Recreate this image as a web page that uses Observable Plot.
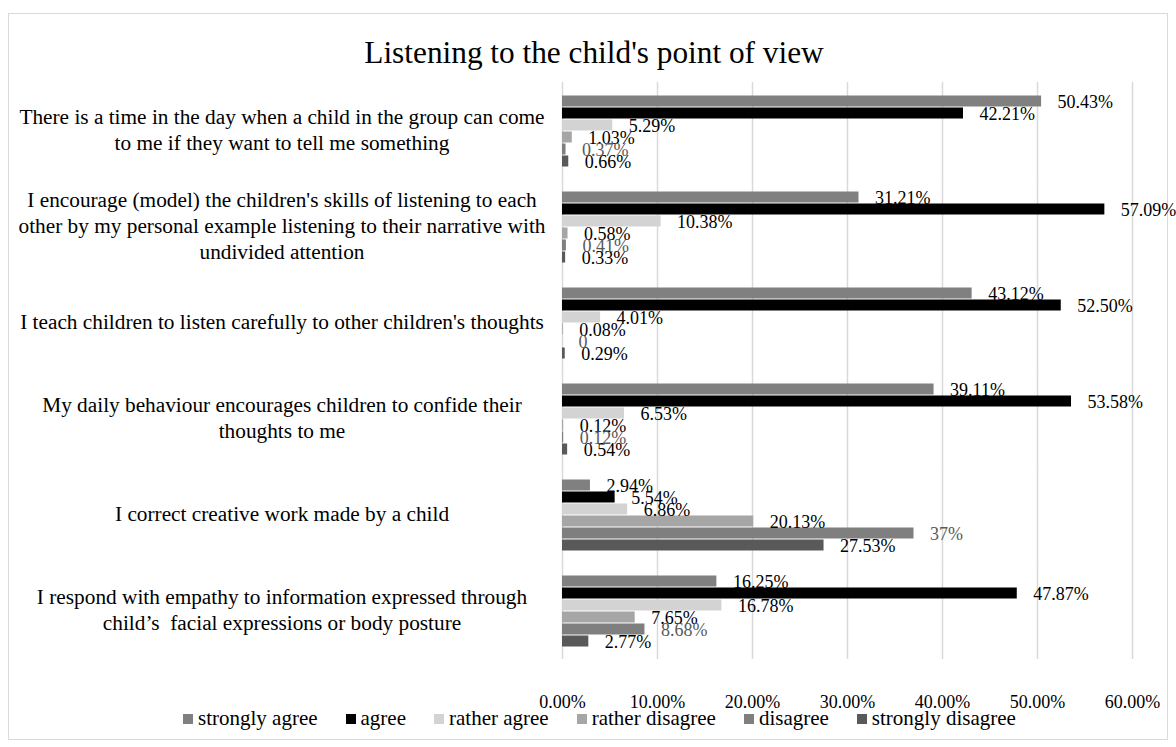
<!DOCTYPE html>
<html>
<head>
<meta charset="utf-8">
<script src="https://cdn.jsdelivr.net/npm/d3@7"></script>
<script src="https://cdn.jsdelivr.net/npm/@observablehq/plot@0.6"></script>
<style>
  html, body { margin: 0; padding: 0; background: #fff; }
  #chart { position: relative; width: 1176px; height: 747px; font-family: "Liberation Serif", "Times New Roman", serif; color: #000; overflow: hidden; }
  #frame { position: absolute; left: 8px; top: 13px; width: 1160px; height: 727px; box-sizing: border-box; border: 1px solid #d9d9d9; }
  #title { position: absolute; left: 594px; top: 37px; transform: translateX(-50%); font-size: 31.3px; line-height: 31px; white-space: nowrap; }
  #plot { position: absolute; left: 0; top: 0; }
  #plot svg { overflow: visible; }
  #legend { position: absolute; left: 183px; top: 708px; display: flex; gap: 28px; font-size: 21px; line-height: 21px; white-space: nowrap; }
  #legend .item { display: flex; align-items: center; }
  #legend .swatch { width: 10px; height: 10px; margin-right: 5px; }
</style>
</head>
<body>
<div id="chart">
  <div id="frame"></div>
  <div id="title">Listening to the child's point of view</div>
  <div id="plot"></div>
  <div id="legend"></div>
</div>
<script>
// Survey statements, top to bottom
const questions = [
  "There is a time in the day when a child in the group can come\nto me if they want to tell me something",
  "I encourage (model) the children's skills of listening to each\nother by my personal example listening to their narrative with\nundivided attention",
  "I teach children to listen carefully to other children's thoughts",
  "My daily behaviour encourages children to confide their\nthoughts to me",
  "I correct creative work made by a child",
  "I respond with empathy to information expressed through\nchild\u2019s  facial expressions or body posture"
];

// Answer categories and their bar colours
const series = ["strongly agree", "agree", "rather agree", "rather disagree", "disagree", "strongly disagree"];
const colors = ["#808080", "#000000", "#d3d3d3", "#a6a6a6", "#7f7f7f", "#595959"];

// Share of answers (%) per statement, one array per answer category
const stronglyAgree    = [50.43, 31.21, 43.12, 39.11, 2.94, 16.25];
const agree            = [42.21, 57.09, 52.50, 53.58, 5.54, 47.87];
const ratherAgree      = [5.29, 10.38, 4.01, 6.53, 6.86, 16.78];
const ratherDisagree   = [1.03, 0.58, 0.08, 0.12, 20.13, 7.65];
const disagree         = [0.37, 0.41, 0, 0.12, 37, 8.68];
const stronglyDisagree = [0.66, 0.33, 0.29, 0.54, 27.53, 2.77];

// Axis ticks (%)
const xTicks = [0, 10, 20, 30, 40, 50, 60];

const valuesBySeries = [stronglyAgree, agree, ratherAgree, ratherDisagree, disagree, stronglyDisagree];
const rows = [];
questions.forEach((q, qi) => {
  series.forEach((s, si) => rows.push({question: q, series: s, value: valuesBySeries[si][qi]}));
});

const fmt = v => v === 0 ? "0" : Number.isInteger(v) ? v + "%" : v.toFixed(2) + "%";

// Vertical layout of the statement groups
const plotTop = 82, plotBottom = 659;
const padInner = 0.238, padOuter = padInner / 2;
const step = (plotBottom - plotTop) / (questions.length - padInner + 2 * padOuter);
const halfGap = step * padInner / 2;

const chart = Plot.plot({
  width: 1176,
  height: 713,
  marginLeft: 562,
  marginRight: 44,
  marginTop: plotTop,
  marginBottom: 713 - plotBottom,
  style: {fontFamily: "'Liberation Serif', 'Times New Roman', serif", fontSize: "18px", color: "#000", background: "transparent", overflow: "visible"},
  x: {domain: [0, 60], ticks: xTicks, tickFormat: d => d.toFixed(2) + "%", tickSize: 0, tickPadding: 36 + halfGap, label: null, line: false},
  y: {domain: series, padding: 0, axis: null},
  fy: {domain: questions, paddingInner: padInner, paddingOuter: padOuter, axis: null, label: null},
  color: {domain: series, range: colors},
  marks: [
    // gridlines, stretched over the gaps between groups so they run unbroken
    Plot.ruleX(xTicks, {x: d => d, stroke: "#d9d9d9", strokeWidth: 1.5, insetTop: -halfGap - 0.5, insetBottom: -halfGap - 0.5}),
    Plot.barX(rows, {x: "value", y: "series", fy: "question", fill: "series", insetTop: 0.5, insetBottom: 0.5}),
    Plot.text(rows.filter(d => d.series !== "disagree"), {
      x: "value", y: "series", fy: "question", text: d => fmt(d.value),
      textAnchor: "start", dx: 16, dy: 0.5, fontSize: 18, fill: "#000"
    }),
    Plot.text(rows.filter(d => d.series === "disagree"), {
      x: "value", y: "series", fy: "question", text: d => fmt(d.value),
      textAnchor: "start", dx: 16, dy: 0.5, fontSize: 18, fill: "#595959"
    }),
    Plot.text(questions, {
      fy: d => d, text: d => d, frameAnchor: "left", dx: -280.5, dy: -2.5,
      textAnchor: "middle", fontSize: 21.3, lineHeight: 1.22, fill: "#000"
    })
  ]
});
document.getElementById("plot").appendChild(chart);

// Legend row under the axis
const legend = d3.select("#legend");
series.forEach((s, i) => {
  const item = legend.append("div").attr("class", "item");
  item.append("div").attr("class", "swatch").style("background", colors[i]);
  item.append("span").text(s);
});
</script>
</body>
</html>
